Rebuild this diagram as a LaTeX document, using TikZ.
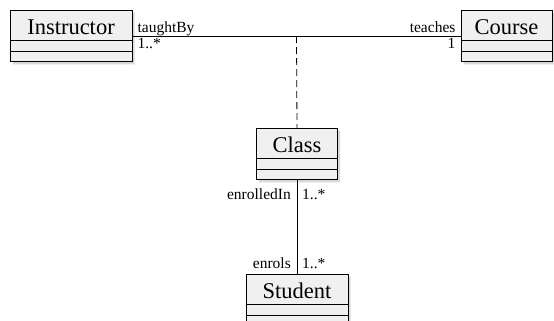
\documentclass[tikz,border=0pt]{standalone}
\usepackage{fontspec}
\setmainfont{Liberation Serif}
\usetikzlibrary{shapes.multipart,shadows}

\tikzset{
        umlclass/.style={draw=black, fill=gray!12, line width=0.8pt,
                rectangle split, rectangle split parts=3,
                rectangle split empty part height=10pt,
                rectangle split empty part depth=0pt,
                inner xsep=0pt, inner ysep=0pt, anchor=north,
                drop shadow={shadow xshift=2.5pt, shadow yshift=-2.5pt, fill=gray!60},
                execute at begin node={\rule[-5.5pt]{0pt}{29pt}},
                font=\fontsize{22.5}{27}\selectfont},
        role/.style={inner sep=0pt, font=\fontsize{15.5}{18}\selectfont},
}

\begin{document}
\begin{tikzpicture}
        \useasboundingbox (0pt,0pt) rectangle (554pt,-321pt);
        \node (v0) [umlclass, minimum width=122pt] at (71pt, -10pt) {Instructor};
        \node (v1) [umlclass, minimum width=91pt] at (506.5pt, -10pt) {Course};
        \node (v2) [umlclass, minimum width=81pt] at (297pt, -128pt) {Class};
        \node (v3) [umlclass, minimum width=102pt] at (297pt, -274pt) {Student};
        % role names and multiplicities
        \node (r0) [role, anchor=base west] at ([shift={(5pt,3.5pt)}]v0.east) {taughtBy};
        \node (m0) [role, anchor=base west] at ([shift={(5pt,-12.5pt)}]v0.east) {1..*};
        \node (r1) [role, anchor=base east] at ([shift={(-5pt,3.5pt)}]v1.west) {teaches};
        \node (m1) [role, anchor=base east] at ([shift={(-5pt,-12.5pt)}]v1.west) {1};
        \node (r2) [role, anchor=base east] at ([shift={(-6pt,-19pt)}]v2.south) {enrolledIn};
        \node (m2) [role, anchor=base west] at ([shift={(5pt,-19pt)}]v2.south) {1..*};
        \node (r3) [role, anchor=base east] at ([shift={(-6pt,6pt)}]v3.north) {enrols};
        \node (m3) [role, anchor=base west] at ([shift={(5pt,6pt)}]v3.north) {1..*};
        \draw [line width=0.8pt] (v0.east) -- coordinate[midway] (a0) (v1.west);
        \draw [line width=0.8pt, dash pattern=on 7pt off 4pt] (a0) -- (v2.north);
        \draw [line width=0.8pt] (v2.south) -- (v3.north);
\end{tikzpicture}
\end{document}
